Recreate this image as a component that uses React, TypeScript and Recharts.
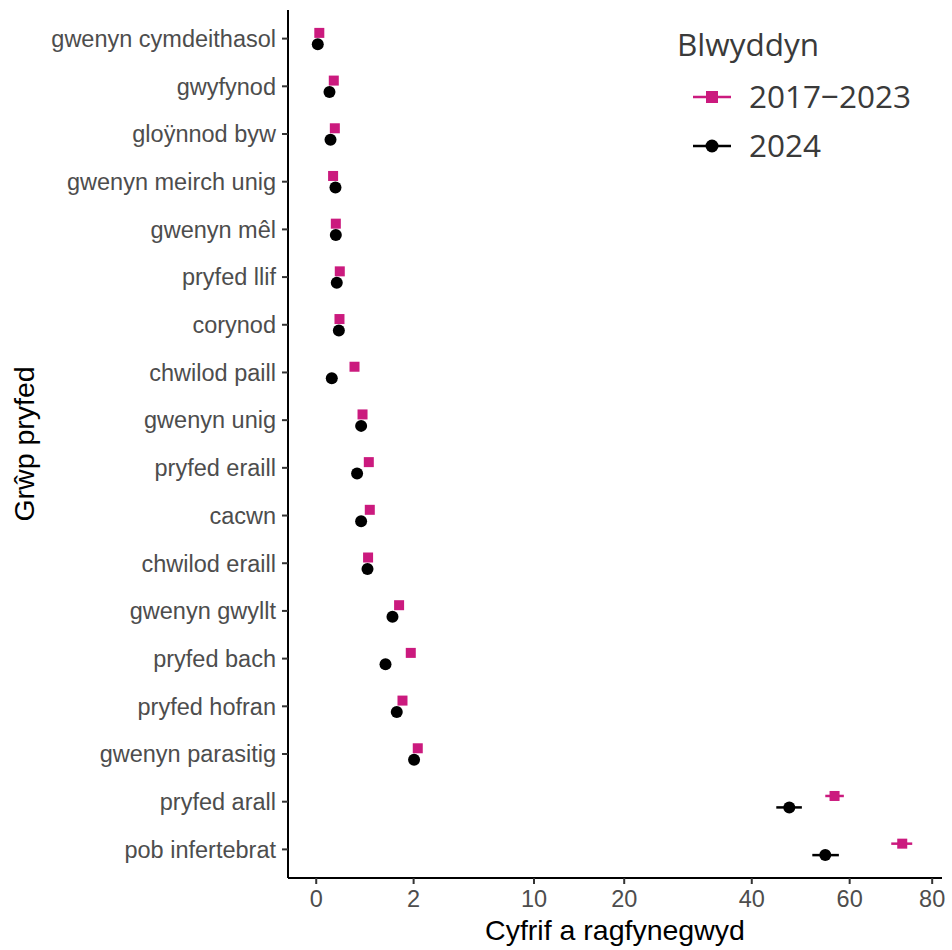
import React from "react";
import { ScatterChart, Scatter, XAxis, YAxis, ErrorBar, Label } from "recharts";

// Grwpiau pryfed, o'r brig i'r gwaelod
const categories = [
  "gwenyn cymdeithasol",
  "gwyfynod",
  "gloÿnnod byw",
  "gwenyn meirch unig",
  "gwenyn mêl",
  "pryfed llif",
  "corynod",
  "chwilod paill",
  "gwenyn unig",
  "pryfed eraill",
  "cacwn",
  "chwilod eraill",
  "gwenyn gwyllt",
  "pryfed bach",
  "pryfed hofran",
  "gwenyn parasitig",
  "pryfed arall",
  "pob infertebrat",
];

// 2017–2023 (sgwariau magenta)
const past = [0.002, 0.065, 0.073, 0.06, 0.081, 0.117, 0.114, 0.309, 0.452, 0.583, 0.605, 0.567, 1.448, 1.885, 1.569, 2.174, 56.65, 72.41];
const pastLow = [0.001, 0.06, 0.068, 0.055, 0.076, 0.11, 0.108, 0.3, 0.44, 0.57, 0.59, 0.555, 1.42, 1.85, 1.54, 2.13, 54.64, 69.72];
const pastHigh = [0.003, 0.07, 0.078, 0.065, 0.086, 0.124, 0.12, 0.318, 0.464, 0.596, 0.62, 0.58, 1.476, 1.92, 1.6, 2.22, 58.7, 74.9];

// 2024 (cylchoedd du)
const current = [0.0005, 0.037, 0.043, 0.078, 0.081, 0.089, 0.108, 0.051, 0.425, 0.352, 0.425, 0.554, 1.226, 1.012, 1.368, 2.019, 47.19, 54.64];
const currentLow = [0.0002, 0.033, 0.039, 0.073, 0.076, 0.084, 0.102, 0.046, 0.41, 0.34, 0.41, 0.54, 1.19, 0.98, 1.33, 1.97, 44.63, 51.89];
const currentHigh = [0.001, 0.041, 0.047, 0.083, 0.086, 0.094, 0.114, 0.056, 0.44, 0.364, 0.44, 0.568, 1.26, 1.045, 1.405, 2.07, 49.73, 57.6];

const xTicks = [0, 2, 10, 20, 40, 60, 80];

const MAGENTA = "#CB1A7E";
const DODGE = 0.12;

const pastData = categories.map((name, i) => ({
  name,
  y: i + 1 - DODGE,
  x: past[i],
  err: [past[i] - pastLow[i], pastHigh[i] - past[i]],
}));

const currentData = categories.map((name, i) => ({
  name,
  y: i + 1 + DODGE,
  x: current[i],
  err: [current[i] - currentLow[i], currentHigh[i] - current[i]],
}));

const SquareDot = (props: any) => {
  const { cx, cy } = props;
  return <rect x={cx - 5} y={cy - 5} width={10} height={10} fill={MAGENTA} />;
};

const CircleDot = (props: any) => {
  const { cx, cy } = props;
  return <circle cx={cx} cy={cy} r={6} fill="#000" />;
};

const SANS = "Liberation Sans, Arial, sans-serif";
const tickFont = { fontFamily: SANS, fontSize: 23.5, fill: "#4D4D4D" };

// Allwedd ar y dde uchaf
const LegendBox = () => (
  <svg
    width={952}
    height={200}
    style={{ position: "absolute", left: 0, top: 0, pointerEvents: "none" }}
  >
    <g style={{ fontFamily: "'Open Sans', sans-serif", fill: "#3a3a3a" }}>
      <text x={677} y={56} fontSize={31.5}>Blwyddyn</text>
      <line x1={693} x2={731} y1={97} y2={97} stroke={MAGENTA} strokeWidth={2.5} />
      <rect x={706} y={91} width={12} height={12} fill={MAGENTA} />
      <text x={749} y={108} fontSize={31.5}>2017{"\u2212"}2023</text>
      <line x1={693} x2={731} y1={146} y2={146} stroke="#000" strokeWidth={2.5} />
      <circle cx={712} cy={146} r={6.5} fill="#000" />
      <text x={749} y={157} fontSize={31.5}>2024</text>
    </g>
  </svg>
);

export default function App() {
  return (
    <div style={{ position: "absolute", left: 0, top: 0, width: 952, height: 950, background: "#fff" }}>
      <ScatterChart width={952} height={950} margin={{ top: 10, right: 10, bottom: 2, left: 0 }}>
        <XAxis
          type="number"
          dataKey="x"
          scale="sqrt"
          domain={[-0.168, 82.57]}
          allowDataOverflow
          ticks={xTicks}
          interval={0}
          height={70}
          tick={tickFont}
          tickSize={6}
          tickMargin={6}
          axisLine={{ stroke: "#000", strokeWidth: 2 }}
          tickLine={{ stroke: "#333", strokeWidth: 2 }}
        >
          <Label
            content={() => (
              <text x={615} y={940} textAnchor="middle" style={{ fontFamily: SANS, fontSize: 28.5, fill: "#000" }}>
                Cyfrif a ragfynegwyd
              </text>
            )}
          />
        </XAxis>
        <YAxis
          type="number"
          dataKey="y"
          reversed
          domain={[0.4, 18.6]}
          allowDataOverflow
          ticks={categories.map((_, i) => i + 1)}
          interval={0}
          tickFormatter={(v: number) => categories[v - 1] ?? ""}
          width={288}
          tick={tickFont}
          tickSize={6}
          tickMargin={6}
          axisLine={{ stroke: "#000", strokeWidth: 2 }}
          tickLine={{ stroke: "#333", strokeWidth: 2 }}
        >
          <Label
            content={() => (
              <text
                x={34}
                y={444}
                transform="rotate(-90 34 444)"
                textAnchor="middle"
                style={{ fontFamily: SANS, fontSize: 28.5, fill: "#000" }}
              >
                Grŵp pryfed
              </text>
            )}
          />
        </YAxis>
        <Scatter name="2017\u20132023" data={pastData} shape={SquareDot} isAnimationActive={false}>
          <ErrorBar dataKey="err" direction="x" width={0} stroke={MAGENTA} strokeWidth={2.5} />
        </Scatter>
        <Scatter name="2024" data={currentData} shape={CircleDot} isAnimationActive={false}>
          <ErrorBar dataKey="err" direction="x" width={0} stroke="#000" strokeWidth={2.5} />
        </Scatter>
      </ScatterChart>
      <LegendBox />
    </div>
  );
}
